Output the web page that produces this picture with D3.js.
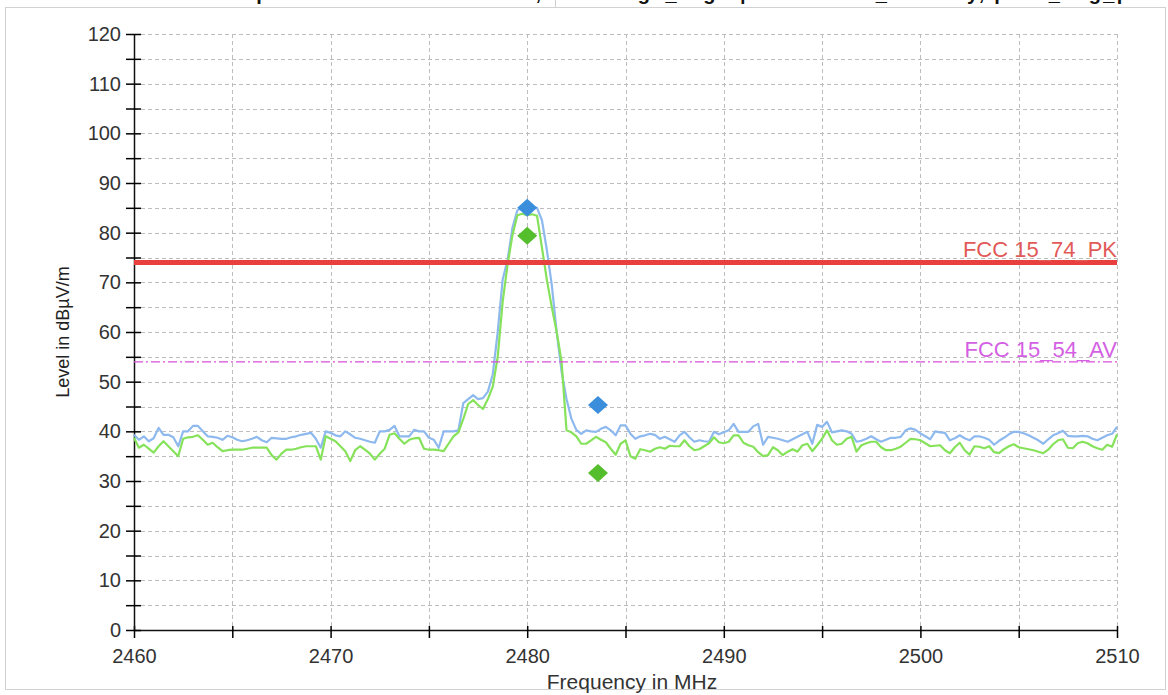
<!DOCTYPE html>
<html>
<head>
<meta charset="utf-8">
<script src="https://cdn.jsdelivr.net/npm/d3@7"></script>
<style>
  body { margin: 0; background: #fff; }
  svg { display: block; font-family: "Liberation Sans", Arial, sans-serif; }
</style>
</head>
<body>
<div id="chart"></div>
<script>
// sweep start and step in MHz
const start_freq = 2460;
const step_freq = 0.25;

// peak detector trace (blue), one value per step, dBuV/m
const peak_trace = [
  39.3, 38.3, 39.0, 38.0, 38.6, 40.7, 39.3, 39.3, 38.8, 37.0,
  40.0, 40.0, 41.1, 41.1, 40.0, 39.0, 38.9, 38.7, 38.3, 39.1,
  38.8, 38.3, 38.0, 38.2, 38.5, 38.9, 38.2, 37.8, 38.7, 38.6,
  38.5, 38.5, 38.8, 39.0, 39.3, 39.5, 39.7, 38.5, 36.7, 40.0,
  39.7, 39.2, 39.0, 40.0, 39.4, 38.7, 38.5, 38.2, 37.9, 37.7,
  40.0, 40.0, 40.3, 41.1, 39.0, 39.0, 39.0, 40.3, 40.0, 40.0,
  38.7, 38.3, 36.7, 40.0, 40.0, 40.0, 40.2, 45.7, 46.5, 47.3,
  46.5, 46.7, 48.0, 51.5, 60.0, 70.5, 74.5, 81.0, 84.5, 85.2,
  85.0, 85.1, 85.0, 82.5, 76.5, 69.5, 60.0, 52.0, 46.5, 42.5,
  40.3, 39.5, 40.2, 40.0, 39.9, 40.5, 40.9, 40.2, 39.2, 41.2,
  41.2, 39.5, 38.5, 39.0, 39.2, 39.5, 39.3, 38.5, 38.9, 38.4,
  37.9, 39.2, 39.9, 38.8, 37.9, 38.2, 38.0, 37.9, 39.9, 39.4,
  39.8, 40.2, 41.5, 39.9, 39.9, 39.9, 41.0, 41.5, 37.3, 38.9,
  38.7, 38.5, 38.2, 37.9, 38.4, 38.9, 39.4, 39.9, 37.5, 41.3,
  40.9, 41.9, 39.8, 40.0, 40.2, 40.0, 39.5, 37.9, 38.1, 38.5,
  39.0, 38.4, 37.9, 38.3, 38.7, 38.7, 38.9, 40.2, 40.6, 40.3,
  39.6, 39.0, 38.4, 40.0, 39.8, 39.7, 38.2, 38.6, 39.2, 38.6,
  38.2, 39.0, 39.0, 38.7, 38.3, 37.3, 38.1, 38.7, 39.4, 39.9,
  39.9, 39.6, 39.2, 38.7, 38.2, 37.5, 38.4, 39.2, 39.6, 40.1,
  39.1, 39.0, 39.0, 39.1, 39.0, 38.5, 38.2, 38.7, 39.2, 39.5, 40.9
];

// average detector trace (green)
const avg_trace = [
  38.7, 36.7, 37.3, 36.5, 35.7, 37.0, 38.0, 37.0, 36.0, 35.0,
  38.5, 38.8, 38.9, 39.2, 38.3, 37.3, 37.7, 36.8, 36.0, 36.2,
  36.3, 36.3, 36.3, 36.5, 36.7, 36.7, 36.7, 36.7, 35.2, 34.3,
  35.5, 36.3, 36.3, 36.5, 36.8, 37.0, 37.0, 37.0, 34.3, 39.0,
  38.5, 38.0, 37.0, 36.0, 34.0, 36.2, 37.0, 36.3, 35.5, 34.3,
  35.5, 36.5, 39.3, 39.6, 38.5, 37.5, 38.3, 38.6, 38.7, 36.5,
  36.3, 36.3, 36.2, 36.0, 37.5, 39.0, 39.8, 42.5, 45.5, 46.3,
  45.3, 44.5, 46.5, 49.0, 55.0, 66.0, 73.5, 79.5, 83.5, 83.8,
  83.5, 83.7, 83.4, 77.0, 70.5, 65.0, 60.0, 54.0, 40.2, 39.8,
  39.0, 37.5, 37.5, 38.2, 38.9, 38.3, 37.8, 36.5, 35.3, 37.5,
  38.2, 35.0, 34.5, 36.4, 36.2, 35.9, 36.5, 36.8, 36.5, 37.1,
  37.0, 37.0, 38.2, 37.0, 36.2, 36.4, 37.0, 37.6, 38.8, 37.8,
  37.6, 37.9, 39.2, 39.2, 37.7, 37.2, 36.9, 35.8, 35.0, 35.2,
  36.8, 36.2, 35.2, 35.9, 36.4, 35.9, 37.2, 37.5, 36.0, 37.2,
  38.5, 40.2, 38.2, 37.3, 37.5, 38.5, 38.9, 35.9, 37.2, 37.6,
  37.9, 37.9, 36.8, 36.2, 36.2, 36.5, 36.9, 37.7, 38.5, 38.4,
  38.2, 37.6, 37.0, 37.1, 37.2, 36.2, 35.6, 36.8, 37.7, 36.2,
  35.3, 37.0, 36.9, 36.6, 37.0, 35.8, 35.6, 36.4, 37.0, 37.4,
  36.8, 36.6, 36.4, 36.2, 35.9, 35.6, 36.3, 37.4, 38.2, 38.4,
  36.7, 36.6, 37.6, 37.9, 37.6, 37.0, 36.6, 36.3, 37.3, 36.9, 39.4
];

// limit lines
const limit_names = ["FCC 15_74_PK", "FCC 15_54_AV"];
const limit_levels = [74, 54];

// final measurement markers
const marker_freqs = [2480.0, 2480.0, 2483.6, 2483.6];
const marker_levels = [85.0, 79.4, 45.3, 31.6];
const marker_kinds = ["pk", "av", "pk", "av"];

// axis ticks
const x_ticks = [2460, 2465, 2470, 2475, 2480, 2485, 2490, 2495, 2500, 2505, 2510];
const y_ticks = [0, 5, 10, 15, 20, 25, 30, 35, 40, 45, 50, 55, 60, 65, 70, 75, 80, 85, 90, 95, 100, 105, 110, 115, 120];

// page title, only its bottom edge is in view
const title_text = "Test plot: Radiated Emission, Bandedge_High | Horizontal_Polarity, peak_avg_plot";

const width = 1168;
const height = 695;
const margin = { top: 34, right: 51, bottom: 65, left: 134 };

const colors = { pk: "#8db9ee", av: "#86e25a", pkMark: "#3a8edb", avMark: "#55be2c" };

const svg = d3.select("#chart")
  .append("svg")
  .attr("width", width)
  .attr("height", height);

// outer frame
svg.append("rect")
  .attr("x", 5.5).attr("y", 7.5)
  .attr("width", 1160).attr("height", 682)
  .attr("fill", "#fff")
  .attr("stroke", "#d2d2d2");

svg.append("line")
  .attr("x1", 555.5).attr("x2", 555.5)
  .attr("y1", 0).attr("y2", 7)
  .attr("stroke", "#cfcfcf");

svg.append("text")
  .attr("x", 200).attr("y", 0)
  .attr("font-size", 20).attr("font-weight", "bold")
  .attr("textLength", 960)
  .attr("fill", "#111")
  .text(title_text);

const x = d3.scaleLinear()
  .domain([2460, 2510])
  .range([margin.left, width - margin.right]);

const y = d3.scaleLinear()
  .domain([0, 120])
  .range([height - margin.bottom, margin.top]);

// grid
svg.append("g")
  .selectAll("line")
  .data(y_ticks.filter(d => d > 0))
  .join("line")
  .attr("x1", margin.left).attr("x2", width - margin.right)
  .attr("y1", d => Math.round(y(d)) + 0.5).attr("y2", d => Math.round(y(d)) + 0.5)
  .attr("stroke", "#bdbdbd")
  .attr("stroke-dasharray", "4,3");

svg.append("g")
  .selectAll("line")
  .data(x_ticks.filter(d => d > 2460))
  .join("line")
  .attr("x1", d => Math.round(x(d)) + 0.5).attr("x2", d => Math.round(x(d)) + 0.5)
  .attr("y1", margin.top).attr("y2", height - margin.bottom)
  .attr("stroke", "#bdbdbd")
  .attr("stroke-dasharray", "4,3");

// axes
const x_axis = svg.append("g")
  .attr("transform", `translate(0,${height - margin.bottom})`)
  .call(d3.axisBottom(x)
    .tickValues(x_ticks)
    .tickSizeInner(8)
    .tickSizeOuter(0)
    .tickPadding(11)
    .tickFormat(d => d % 10 === 0 ? d : ""));

x_axis.selectAll(".tick line").attr("y1", -4).attr("stroke-width", 1.5);

const y_axis = svg.append("g")
  .attr("transform", `translate(${margin.left},0)`)
  .call(d3.axisLeft(y)
    .tickValues(y_ticks)
    .tickSizeInner(8)
    .tickSizeOuter(0)
    .tickPadding(5)
    .tickFormat(d => d % 10 === 0 ? d : ""));

y_axis.selectAll(".tick line").attr("x1", 7).attr("stroke-width", 1.5);

svg.selectAll(".domain").attr("stroke", "#111").attr("stroke-width", 1.5);
svg.selectAll(".tick text")
  .attr("font-size", 20)
  .attr("fill", "#333")
  .attr("font-family", "Liberation Sans, Arial, sans-serif");

// axis titles
svg.append("text")
  .attr("x", 632).attr("y", 689)
  .attr("text-anchor", "middle")
  .attr("font-size", 21)
  .attr("fill", "#333")
  .text("Frequency in MHz");

svg.append("text")
  .attr("transform", `translate(69,${(margin.top + height - margin.bottom) / 2}) rotate(-90)`)
  .attr("text-anchor", "middle")
  .attr("font-size", 18)
  .attr("fill", "#222")
  .text("Level in dBµV/m");

// traces
const freqs = peak_trace.map((d, i) => start_freq + i * step_freq);
const line = d3.line()
  .x((d, i) => x(freqs[i]))
  .y(d => y(d));

svg.append("path")
  .datum(peak_trace)
  .attr("fill", "none")
  .attr("stroke", colors.pk)
  .attr("stroke-width", 2.2)
  .attr("stroke-linejoin", "round")
  .attr("d", line);

svg.append("path")
  .datum(avg_trace)
  .attr("fill", "none")
  .attr("stroke", colors.av)
  .attr("stroke-width", 2.2)
  .attr("stroke-linejoin", "round")
  .attr("d", line);

// limit lines
const limit_styles = [
  { stroke: "#e8403f", width: 5, dash: null, text: "#e25a57" },
  { stroke: "#d94fd9", width: 1.2, dash: "9,3,2,3", text: "#d45fe4" }
];

limit_levels.forEach((lv, i) => {
  const st = limit_styles[i];
  svg.append("line")
    .attr("x1", margin.left).attr("x2", width - margin.right)
    .attr("y1", y(lv)).attr("y2", y(lv))
    .attr("stroke", st.stroke)
    .attr("stroke-width", st.width)
    .attr("stroke-dasharray", st.dash);
  svg.append("text")
    .attr("x", width - margin.right)
    .attr("y", y(lv) - 5)
    .attr("text-anchor", "end")
    .attr("font-size", 22)
    .attr("fill", st.text)
    .text(limit_names[i]);
});

// diamond markers
const mw = 10, mh = 9;
svg.append("g")
  .selectAll("path")
  .data(marker_freqs)
  .join("path")
  .attr("d", (d, i) => {
    const cx = x(d), cy = y(marker_levels[i]);
    return `M${cx},${cy - mh}L${cx + mw},${cy}L${cx},${cy + mh}L${cx - mw},${cy}Z`;
  })
  .attr("fill", (d, i) => marker_kinds[i] === "pk" ? colors.pkMark : colors.avMark);
</script>
</body>
</html>
